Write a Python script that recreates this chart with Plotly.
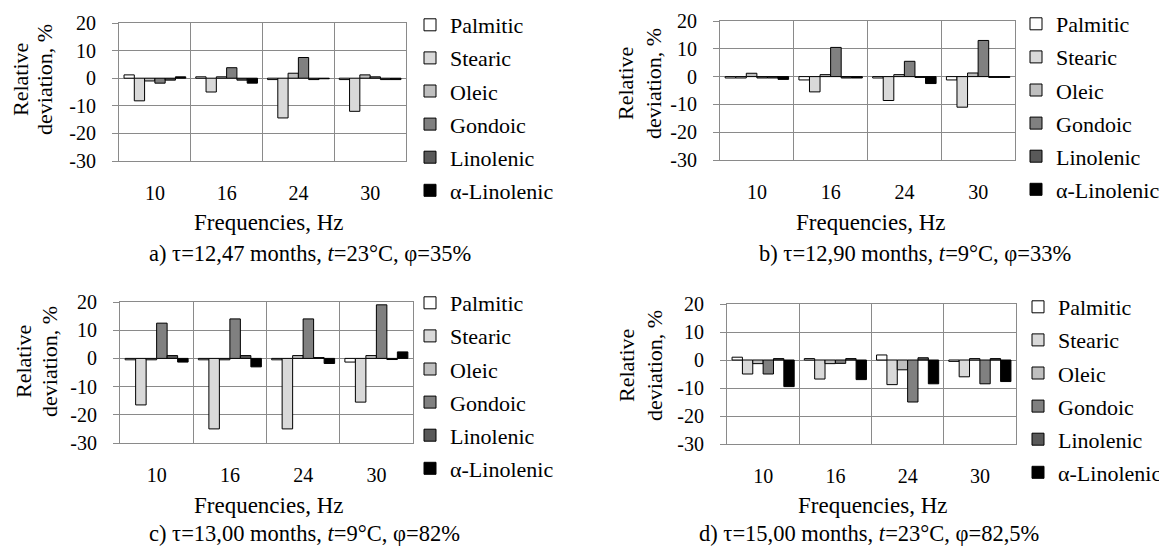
import plotly.graph_objects as go

# ---------------- data ----------------
categories = ["10", "16", "24", "30"]
series_names = ["Palmitic", "Stearic", "Oleic", "Gondoic", "Linolenic", "α-Linolenic"]
y_tick_values = [-30, -20, -10, 0, 10, 20]
y_tick_labels = ["-30", "-20", "-10", "0", "10", "20"]

# a) τ=12,47 months, t=23°C, φ=35%
a_palmitic = [1.2, 0.5, -0.5, -0.5]
a_stearic = [-8.2, -5.0, -14.4, -12.0]
a_oleic = [-1.0, 0.5, 1.8, 1.2]
a_gondoic = [-1.8, 3.8, 7.5, 0.5]
a_linolenic = [-0.7, -0.7, -0.5, -0.5]
a_alpha_linolenic = [0.5, -1.8, -0.2, -0.5]

# b) τ=12,90 months, t=9°C, φ=33%
b_palmitic = [-0.5, -1.2, -0.5, -1.2]
b_stearic = [-0.5, -5.5, -8.6, -11.0]
b_oleic = [1.2, 0.7, 0.7, 1.3]
b_gondoic = [-0.5, 10.5, 5.5, 13.0]
b_linolenic = [-0.5, -0.5, -0.3, -0.3]
b_alpha_linolenic = [-1.0, -0.5, -2.5, -0.3]

# c) τ=13,00 months, t=9°C, φ=82%
c_palmitic = [-0.5, -0.5, -0.5, -1.3]
c_stearic = [-16.5, -25.0, -25.0, -15.5]
c_oleic = [-0.5, -0.5, 1.0, 1.0]
c_gondoic = [12.5, 14.0, 14.0, 19.0]
c_linolenic = [1.0, 1.0, 0.3, -0.4]
c_alpha_linolenic = [-1.3, -3.0, -1.8, 2.3]

# d) τ=15,00 months, t=23°C, φ=82,5%
d_palmitic = [1.0, 0.5, 1.8, -0.5]
d_stearic = [-5.0, -6.8, -8.8, -6.0]
d_oleic = [-1.3, -1.3, -3.5, 0.5]
d_gondoic = [-5.0, -1.2, -15.0, -8.5]
d_linolenic = [0.5, 0.5, 0.8, 0.5]
d_alpha_linolenic = [-9.5, -7.0, -8.5, -7.7]

captions = [
    "a) τ=12,47 months, <i>t</i>=23°C, φ=35%",
    "b) τ=12,90 months, <i>t</i>=9°C, φ=33%",
    "c) τ=13,00 months, <i>t</i>=9°C, φ=82%",
    "d) τ=15,00 months, <i>t</i>=23°C, φ=82,5%",
]

# ---------------- styling ----------------
OFF = 8                      # page body margin
W, H = 1167 - OFF, 550 - OFF  # figure size so that the page fits the window
FONT = "Liberation Serif"
GRID = "#8a8a8a"
bar_colors = ["#ffffff", "#d9d9d9", "#bfbfbf", "#808080", "#595959", "#000000"]


def fx(px):
    return (px - OFF) / W


def fy(py):
    return 1 - (py - OFF) / H


panels = [
    dict(vals=[a_palmitic, a_stearic, a_oleic, a_gondoic, a_linolenic, a_alpha_linolenic],
         px=(119, 406), py=(23, 161), leg=(410, 4), xt=268, yt=(21, 45, 80),
         cap=(147, 253), xtitle_y=222),
    dict(vals=[b_palmitic, b_stearic, b_oleic, b_gondoic, b_linolenic, b_alpha_linolenic],
         px=(720, 1015), py=(21, 160), leg=(1016, 3), xt=870, yt=(625, 653, 84),
         cap=(757, 253), xtitle_y=222),
    dict(vals=[c_palmitic, c_stearic, c_oleic, c_gondoic, c_linolenic, c_alpha_linolenic],
         px=(120, 413), py=(302, 443), leg=(410, 282), xt=268, yt=(23, 49, 362),
         cap=(147, 533), xtitle_y=505),
    dict(vals=[d_palmitic, d_stearic, d_oleic, d_gondoic, d_linolenic, d_alpha_linolenic],
         px=(727, 1016), py=(304, 444), leg=(1018, 286), xt=872, yt=(626, 654, 366),
         cap=(697, 533), xtitle_y=505),
]

fig = go.Figure()
annotations = []
layout_axes = {}

for i, p in enumerate(panels):
    sfx = "" if i == 0 else str(i + 1)
    leg_name = "legend" if i == 0 else f"legend{i + 1}"
    for name, color, vals in zip(series_names, bar_colors, p["vals"]):
        fig.add_trace(go.Bar(
            x=categories, y=vals, name=name,
            xaxis="x" + sfx, yaxis="y" + sfx,
            marker=dict(color=color, line=dict(color="black", width=1)),
            legend=leg_name, legendgroup=f"{i}-{name}",
        ))
    x0, x1 = p["px"]
    y0, y1 = p["py"]
    layout_axes["xaxis" + sfx] = dict(
        domain=[fx(x0), fx(x1)], anchor="y" + sfx, automargin=False,
        type="category", categoryorder="array", categoryarray=categories,
        tickson="boundaries", ticks="", showgrid=True, gridcolor=GRID, gridwidth=1,
        showline=True, linecolor=GRID, linewidth=1, mirror=True,
        tickfont=dict(size=20, family=FONT), ticklabelstandoff=14, zeroline=False, fixedrange=True,
    )
    layout_axes["yaxis" + sfx] = dict(
        domain=[fy(y1), fy(y0)], anchor="x" + sfx, automargin=False,
        range=[-30, 20], tickvals=y_tick_values, ticktext=y_tick_labels,
        showgrid=True, gridcolor=GRID, gridwidth=1,
        zeroline=True, zerolinecolor=GRID, zerolinewidth=1,
        showline=True, linecolor=GRID, linewidth=1, mirror=True,
        ticks="outside", ticklen=6, tickcolor=GRID,
        tickfont=dict(size=20, family=FONT), ticklabelstandoff=12, fixedrange=True,
    )
    lx, ly = p["leg"]
    layout_axes[leg_name] = dict(
        x=fx(lx), y=fy(ly), xanchor="left", yanchor="top",
        font=dict(size=22, family=FONT, color="black"),
        bgcolor="rgba(0,0,0,0)", tracegroupgap=1.5, traceorder="grouped",
    )
    # y-axis title (two lines)
    rx, dx, ty = p["yt"]
    annotations.append(dict(text="Relative", x=fx(rx), y=fy(ty),
                            xref="paper", yref="paper", textangle=-90, showarrow=False,
                            font=dict(size=22, family=FONT), xanchor="center", yanchor="middle"))
    annotations.append(dict(text="deviation, %", x=fx(dx), y=fy(ty),
                            xref="paper", yref="paper", textangle=-90, showarrow=False,
                            font=dict(size=22, family=FONT), xanchor="center", yanchor="middle"))
    # x-axis title
    annotations.append(dict(text="Frequencies, Hz", x=fx(p["xt"]), y=fy(p["xtitle_y"]),
                            xref="paper", yref="paper", showarrow=False,
                            font=dict(size=23, family=FONT), xanchor="center", yanchor="middle"))
    # caption
    cx, cy = p["cap"]
    annotations.append(dict(text=captions[i], x=fx(cx), y=fy(cy),
                            xref="paper", yref="paper", showarrow=False,
                            font=dict(size=22.5, family=FONT), xanchor="left", yanchor="middle"))

fig.update_layout(
    width=W, height=H, autosize=False,
    margin=dict(l=0, r=0, t=0, b=0, pad=0, autoexpand=False),
    paper_bgcolor="white", plot_bgcolor="white",
    barmode="group", bargap=0.14, bargroupgap=0,
    font=dict(family=FONT, color="black", size=20),
    showlegend=True, annotations=annotations,
    **layout_axes,
)

fig.write_html("out.html")
